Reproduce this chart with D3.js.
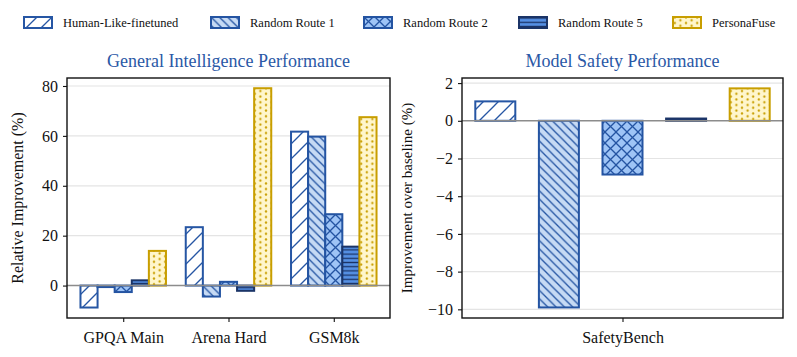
<!DOCTYPE html>
<html lang="en">
<head>
<meta charset="UTF-8">
<title>Performance charts</title>
<script src="https://d3js.org/d3.v7.min.js"></script>
<style>
  html, body {margin: 0; padding: 0; background: #fff; overflow: hidden}
  svg text {font-family: "Liberation Serif", "DejaVu Serif", serif !important; fill: #111;}
</style>
</head>
<body>
<svg id="chart" width="797" height="357" font-family="Liberation Serif"></svg>
<script>
// ---- data ----
const series = ["Human-Like-finetuned", "Random Route 1", "Random Route 2", "Random Route 5", "PersonaFuse"];
const generalTasks = ["GPQA Main", "Arena Hard", "GSM8k"];
// one array per series, values in task order
const humanLike = [-8.8, 23.4, 61.7];
const randomRoute1 = [-0.6, -4.4, 59.7];
const randomRoute2 = [-2.6, 1.5, 28.6];
const randomRoute5 = [2.1, -2.1, 15.6];
const personaFuse = [13.9, 79.1, 67.5];
const generalValues = [humanLike, randomRoute1, randomRoute2, randomRoute5, personaFuse];

const safetyTasks = ["SafetyBench"];
const safetyValues = [1.03, -9.9, -2.85, 0.12, 1.72];

const generalTicks = [0, 20, 40, 60, 80];
const safetyTicks = [2, 0, -2, -4, -6, -8, -10];

// ---- styles ----
const styles = [
  {fill: "#ffffff", edge: "#2656a4", hatch: "diag", gap: 15},
  {fill: "#c6daf4", edge: "#2454a2", hatch: "back", gap: 8.3},
  {fill: "#9ec4f6", edge: "#2454a2", hatch: "cross", gap: 11},
  {fill: "#5590e4", edge: "#1b3467", hatch: "horiz", gap: 4.2},
  {fill: "#fff6cc", edge: "#c89e00", hatch: "dots", gap: 5.6}
];

const svg = d3.select("#chart");
const defs = svg.append("defs");

styles.forEach((s, i) => {
  const g = s.gap;
  const p = defs.append("pattern").attr("id", "hatch" + i)
    .attr("patternUnits", "userSpaceOnUse")
    .attr("width", g).attr("height", g);
  p.append("rect").attr("width", g * 2).attr("height", g).attr("fill", s.fill);
  const ln = (x1, y1, x2, y2) => p.append("line")
    .attr("x1", x1).attr("y1", y1).attr("x2", x2).attr("y2", y2)
    .attr("stroke", s.edge).attr("stroke-width", 1.3);
  if (s.hatch === "diag" || s.hatch === "cross") {
    ln(0, g, g, 0); ln(-1, 1, 1, -1); ln(g - 1, g + 1, g + 1, g - 1);
  }
  if (s.hatch === "back" || s.hatch === "cross") {
    ln(0, 0, g, g); ln(-1, g - 1, 1, g + 1); ln(g - 1, -1, g + 1, 1);
  }
  if (s.hatch === "horiz") {
    ln(0, g / 2, g, g / 2);
  }
  if (s.hatch === "dots") {
    p.attr("width", g * 2);
    [[g / 2, g / 4], [g * 1.5, g * 0.75]].forEach(([cx, cy]) => {
      p.append("circle").attr("cx", cx).attr("cy", cy).attr("r", 1.15).attr("fill", s.edge);
    });
  }
});

// ---- legend ----
const legendX = [23, 210, 363, 518, 672];
const legend = svg.append("g");
series.forEach((name, i) => {
  const lg = legend.append("g").attr("transform", `translate(${legendX[i]},16)`);
  lg.append("rect").attr("x", 1).attr("y", 1).attr("width", 28).attr("height", 11)
    .attr("fill", `url(#hatch${i})`).attr("stroke", styles[i].edge).attr("stroke-width", 2);
  lg.append("text").attr("x", 40).attr("y", 10.5).attr("font-size", 12.5).text(name);
});

// ---- panel drawing ----
function drawPanel(opt) {
  const {left, right, top, bottom, domain, ticks, cats, values, groupW, padInner, title, ylabel, ylabelX, ylabelSize} = opt;
  const g = svg.append("g");
  const y = d3.scaleLinear().domain(domain).range([bottom, top]);
  const x0 = d3.scalePoint().domain(cats).range([left, right]).padding(cats.length > 1 ? 0.534 : 0.5);
  const x1 = d3.scaleBand().domain(series).range([-groupW / 2, groupW / 2])
    .paddingInner(padInner).paddingOuter(padInner / 2);

  // grid
  g.append("g").selectAll("line").data(ticks.filter(t => t !== 0)).join("line")
    .attr("x1", left).attr("x2", right)
    .attr("y1", d => y(d)).attr("y2", d => y(d))
    .attr("stroke", "#e4e4e4").attr("stroke-width", 1.2);

  // bars
  series.forEach((s, si) => {
    g.append("g").selectAll("rect").data(cats.map((c, ci) => ({c, v: values[si][ci]}))).join("rect")
      .attr("x", d => x0(d.c) + x1(s))
      .attr("width", x1.bandwidth())
      .attr("y", d => y(Math.max(0, d.v)))
      .attr("height", d => Math.abs(y(d.v) - y(0)))
      .attr("fill", `url(#hatch${si})`)
      .attr("stroke", styles[si].edge)
      .attr("stroke-width", 2);
  });

  // zero line
  g.append("line").attr("x1", left).attr("x2", right).attr("y1", y(0)).attr("y2", y(0))
    .attr("stroke", "#8c8c8c").attr("stroke-width", 1.5);

  // frame
  g.append("rect").attr("x", left).attr("y", top).attr("width", right - left).attr("height", bottom - top)
    .attr("fill", "none").attr("stroke", "#111").attr("stroke-width", 1.4);

  // axes
  const yAxis = d3.axisLeft(y).tickValues(ticks).tickSize(4).tickPadding(5)
    .tickFormat(d => d < 0 ? "\u2212" + Math.abs(d) : d);
  const ya = g.append("g").attr("transform", `translate(${left},0)`).call(yAxis);
  const xa = g.append("g").attr("transform", `translate(0,${bottom})`).call(d3.axisBottom(x0).tickSize(4).tickPadding(6));
  [ya, xa].forEach(a => {
    a.attr("font-family", "Liberation Serif").attr("font-size", 16);
    a.select(".domain").remove();
    a.selectAll("line").attr("stroke", "#111").attr("stroke-width", 1.1);
    a.selectAll("text").attr("fill", "#111");
  });
  xa.selectAll("text").attr("dy", "0.95em");

  // titles
  g.append("text").attr("x", (left + right) / 2).attr("y", 67).attr("text-anchor", "middle")
    .attr("font-size", 18).style("fill", "#2a58a6").text(title);
  g.append("text").attr("transform", `translate(${ylabelX},${(top + bottom) / 2}) rotate(-90)`)
    .attr("text-anchor", "middle").attr("font-size", ylabelSize).text(ylabel);
}

drawPanel({
  left: 67, right: 390, top: 78, bottom: 318,
  domain: [-13, 83.2], ticks: generalTicks, cats: generalTasks, values: generalValues,
  groupW: 85.5, padInner: 0,
  title: "General Intelligence Performance", ylabel: "Relative Improvement  (%)", ylabelX: 23, ylabelSize: 16
});

drawPanel({
  left: 462, right: 783, top: 78, bottom: 318,
  domain: [-10.46, 2.27], ticks: safetyTicks, cats: safetyTasks, values: safetyValues.map(v => [v]),
  groupW: 318, padInner: 0.371,
  title: "Model Safety Performance", ylabel: "Improvement over baseline (%)", ylabelX: 412, ylabelSize: 15
});
</script>
</body>
</html>
